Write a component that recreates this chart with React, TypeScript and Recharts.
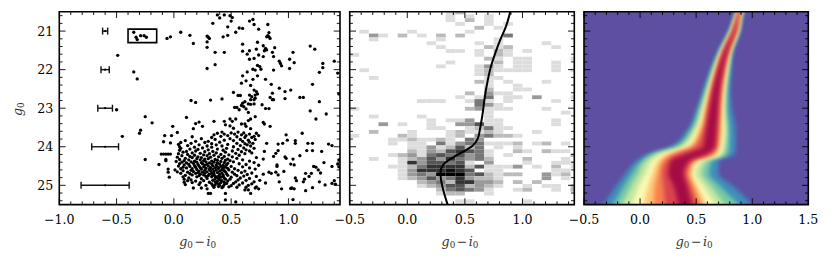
import React from "react";
import {
  Area,
  CartesianGrid,
  ComposedChart,
  ErrorBar,
  Line,
  ReferenceArea,
  Scatter,
  ScatterChart,
  XAxis,
  YAxis,
} from "recharts";

// tick lists
const colourTicksLeft = [-1, -0.9, -0.8, -0.7, -0.6, -0.5, -0.4, -0.3, -0.2, -0.1, 0, 0.1, 0.2, 0.3, 0.4, 0.5, 0.6, 0.7, 0.8, 0.9, 1, 1.1, 1.2, 1.3, 1.4];
const colourTicksMid = [-0.5, -0.4, -0.3, -0.2, -0.1, 0, 0.1, 0.2, 0.3, 0.4, 0.5, 0.6, 0.7, 0.8, 0.9, 1, 1.1, 1.2, 1.3, 1.4];
const colourTicksRight = [-0.5, -0.4, -0.3, -0.2, -0.1, 0, 0.1, 0.2, 0.3, 0.4, 0.5, 0.6, 0.7, 0.8, 0.9, 1, 1.1, 1.2, 1.3, 1.4, 1.5];
const magTicks = [20.6, 20.8, 21, 21.2, 21.4, 21.6, 21.8, 22, 22.2, 22.4, 22.6, 22.8, 23, 23.2, 23.4, 23.6, 23.8, 24, 24.2, 24.4, 24.6, 24.8, 25, 25.2, 25.4];

// left panel: photometric errors at each magnitude
const errorMags = [21, 22, 23, 24, 25];
const errorSizes = [0.022, 0.036, 0.064, 0.117, 0.21];

// left panel: the sparser stars as [colour, magnitude]
const sparseStars: number[][] = [
  [0.38, 20.58], [0.4, 20.66], [0.44, 20.58], [0.49, 20.6], [0.51, 20.65], [0.5, 20.74], [0.34, 20.8], [0.47, 20.89], [0.66, 20.74], [0.69, 20.7],
  [0.7, 20.83], [0.74, 20.95], [0.82, 20.83], [0.57, 20.92], [0.6, 20.93], [0.54, 21.03], [0.47, 21.11], [0.43, 21.15], [0.29, 21.13], [0.3, 21.16],
  [0.31, 21.19], [0.29, 21.28], [0.17, 21.32], [0.14, 21.11], [0.06, 21.03], [-0.03, 21.15], [-0.06, 21.19], [-0.35, 21.03], [-0.33, 21.16], [-0.32, 21.22],
  [-0.29, 21.12], [-0.26, 21.12], [-0.24, 21.16], [0.83, 21.04], [0.81, 21.15], [0.83, 21.15], [0.84, 21.19], [0.82, 21.12], [0.6, 21.34], [0.73, 21.29],
  [0.78, 21.38], [0.8, 21.45], [0.81, 21.49], [0.79, 21.51], [0.88, 21.43], [0.86, 21.55], [0.87, 21.66], [0.72, 21.47], [0.66, 21.51], [0.64, 21.6],
  [0.6, 21.52], [0.29, 21.42], [0.36, 21.55], [0.44, 21.55], [1.04, 21.55], [0.92, 21.78], [0.93, 21.84], [1.01, 21.73], [1.05, 21.82], [0.94, 21.9],
  [1.01, 21.97], [1.19, 21.39], [1.23, 21.47], [1.4, 21.78], [1.3, 21.84], [1.3, 21.95], [1.27, 22.07], [1.43, 22.09], [-0.49, 21.63], [0.29, 21.97],
  [0.36, 21.87], [0.66, 21.73], [0.7, 21.71], [0.74, 21.62], [0.78, 21.66], [0.73, 21.89], [0.75, 21.92], [0.76, 21.99], [0.69, 21.99], [0.71, 22.01],
  [0.64, 22.06], [0.87, 22.01], [0.6, 22.16], [0.73, 22.16], [0.69, 22.25], [0.63, 22.29], [0.59, 22.35], [0.8, 22.25], [0.85, 22.38], [1.21, 22.38],
  [-0.35, 22.06], [-0.32, 22.24], [0.67, 22.41], [0.52, 22.59], [0.56, 22.67], [0.58, 22.67], [0.7, 22.53], [0.72, 22.57], [0.73, 22.63], [0.71, 22.66],
  [0.68, 22.7], [0.66, 22.66], [0.71, 22.74], [0.7, 22.78], [0.67, 22.78], [0.62, 22.83], [0.6, 22.87], [0.59, 22.93], [0.61, 22.96], [0.65, 22.89],
  [0.67, 22.9], [0.7, 22.89], [0.77, 22.91], [0.86, 22.61], [0.84, 22.72], [0.86, 22.78], [0.87, 22.78], [0.92, 22.48], [0.97, 22.57], [1.02, 22.53],
  [0.97, 22.75], [1.1, 22.72], [1.13, 22.72], [1.44, 22.63], [1.27, 22.83], [1.19, 23.07], [1.24, 23.28], [1.33, 23.15], [0.15, 22.8], [0.19, 22.85],
  [0.32, 22.79], [0.42, 22.76], [-0.5, 23.04], [0.53, 22.98], [0.55, 22.98], [0.57, 23.04], [0.63, 23.02], [0.65, 23.11], [0.71, 23.22], [0.8, 23.01],
  [0.83, 23.01], [-0.25, 23.22], [-0.19, 23.38], [0.11, 23.24], [0.35, 23.34], [0.22, 23.36], [0.19, 23.4], [0.25, 23.47], [0.17, 23.53], [-0.01, 23.47],
  [-0.29, 23.57], [0.44, 23.34], [0.49, 23.28], [0.51, 23.34], [0.54, 23.28], [0.45, 23.43], [0.49, 23.46], [0.52, 23.52], [0.59, 23.41], [0.62, 23.41],
  [0.63, 23.47], [0.67, 23.53], [0.67, 23.28], [0.78, 23.37], [0.79, 23.41], [0.84, 23.47], [0.65, 23.32],
  [-0.45, 23.73], [-0.3, 23.65], [-0.25, 24.33], [-0.13, 24.46], [-0.08, 23.71], [-0.02, 23.71], [0.03, 23.63], [-0.09, 23.87], [-0.03, 23.9], [-0.11, 24.19],
  [-0.09, 24.19], [-0.07, 24.19], [-0.05, 24.19], [-0.03, 24.19], [-0.07, 24.33], [-0.07, 24.36], [-0.05, 24.58], [-0.05, 24.66], [-0.04, 24.79],
  [0.81, 23.91], [0.91, 23.93], [0.95, 23.91], [0.99, 23.83], [0.98, 23.69], [1.12, 23.65], [1.06, 23.84], [1.06, 23.91], [1.17, 23.91], [1.21, 23.91],
  [1.35, 23.93], [1.38, 23.97], [1.16, 24.1], [1.21, 24.1], [1.29, 24.12], [0.91, 24.1], [0.89, 24.17], [0.87, 24.25], [0.79, 24.12], [0.97, 24.26],
  [0.98, 24.3], [1.1, 24.23], [1.04, 24.32], [1.02, 24.45], [1.05, 24.47], [1.31, 24.41], [1.44, 24.34], [1.43, 24.45], [1.38, 24.51], [1.44, 24.52],
  [1.22, 24.51], [1.24, 24.53], [1.26, 24.6], [1.28, 24.68], [0.9, 24.47], [0.9, 24.51], [0.96, 24.64], [0.89, 24.66], [0.78, 24.71], [0.83, 24.66],
  [0.85, 24.69], [0.91, 24.73], [0.92, 24.91], [0.8, 24.94], [0.94, 25.09], [1.03, 25.07], [1.05, 25.09], [1.02, 25.08], [1.07, 24.88], [1.06, 24.81],
  [1.15, 24.69], [1.2, 24.69], [1.18, 24.77], [1.14, 24.84], [1.13, 24.91], [1.4, 24.88], [1.38, 24.95], [1.41, 24.97], [1.32, 24.99], [1.27, 24.91],
  [1.21, 25.06], [1.15, 25.14], [1.04, 25.37], [0.54, 25.43], [0.45, 25.38], [0.45, 25.21], [0.74, 25.09], [0.67, 25.21], [0.65, 25.12], [0.62, 25.12],
  [0.71, 25.07], [0.3, 25.21], [0.32, 25.21], [0.29, 25.09], [0.24, 25.07], [0.17, 25.07],
];

// left panel: the crowded clump, colours listed per magnitude
const clumpRows: [number, number[]][] = [
  [23.62, [0.42, 0.56]], [23.64, [0.5, 0.61]], [23.65, [0.38, 0.72]], [23.67, [0.44, 0.66, 0.53]], [23.69, [0.35, 0.59]],
  [23.71, [0.47, 0.74, 0.63]], [23.73, [0.7, 0.41]], [23.74, [0.16, 0.55]], [23.76, [0.33, 0.62, 0.68]], [23.79, [0.24, 0.49]],
  [23.81, [0.36, 0.71, 0.58]], [23.83, [0.65, 0.44]], [23.84, [0.1, 0.52]], [23.86, [0.3, 0.19, 0.6]], [23.88, [0.66, 0.4]],
  [23.89, [0.06, 0.27]], [23.91, [0.55, 0.15, 0.69]], [23.92, [0.33, 0.62]], [23.94, [0.04, 0.47]], [23.95, [0.22, 0.64, 0.37]],
  [23.97, [0.12, 0.58]], [23.98, [0.29, 0.42, 0.67]], [24.0, [0.05, 0.52]], [24.01, [0.18, 0.33]], [24.03, [0.61, 0.25]],
  [24.04, [0.06, 0.46, 0.7]], [24.06, [0.14, 0.38]], [24.07, [0.56, 0.21]], [24.08, [0.3, 0.63]], [24.09, [0.05, 0.43]],
  [24.11, [0.19, 0.51, 0.66]], [24.12, [0.11, 0.34]], [24.13, [0.27, 0.59]], [24.14, [0.08, 0.45]], [24.16, [0.37, 0.16, 0.68]],
  [24.17, [0.54, 0.23]], [24.18, [0.31, 0.62, 0.04]], [24.2, [0.12, 0.41]], [24.21, [0.26, 0.48]], [24.22, [0.18, 0.35, 0.57]],
  [24.23, [0.29, 0.07]], [24.25, [0.44, 0.14]], [24.26, [0.21, 0.39, 0.51]], [24.27, [0.32, 0.03]], [24.28, [0.24, 0.16, 0.72]],
  [24.3, [0.42, 0.1, 0.55]], [24.31, [0.3, 0.2]], [24.32, [0.47, 0.27, 0.78]], [24.33, [0.36, 0.05]], [24.34, [0.13, 0.23, 0.6]],
  [24.35, [0.38, 0.45]], [24.36, [0.09, 0.26, 0.49]], [24.37, [0.18, 0.66, 0.33]], [24.38, [0.41, 0.02]], [24.39, [0.28, 0.15, 0.52]],
  [24.4, [0.35, 0.07, 0.2]], [24.41, [0.44, 0.24, 0.7]], [24.42, [0.11, 0.31, 0.38]], [24.43, [0.17, 0.47]], [24.44, [0.25, 0.05, 0.57]],
  [24.45, [0.4, 0.29, 0.33]], [24.46, [0.13, 0.21, 0.63]], [24.47, [0.37, 0.09, 0.46]], [24.48, [0.27, 0.43, 0.74]], [24.49, [0.18, 0.34]],
  [24.5, [0.04, 0.22, 0.3]], [24.51, [0.41, 0.5, 0.14]], [24.52, [0.26, 0.38, 0.6]], [24.53, [0.08, 0.45, 0.19]], [24.54, [0.32, 0.23, 0.36]],
  [24.55, [0.11, 0.43, 0.66]], [24.56, [0.28, 0.39, 0.47]], [24.57, [0.06, 0.16, 0.53]], [24.58, [0.34, 0.24, 0.71]], [24.59, [0.2, 0.42, 0.31]],
  [24.6, [0.01, 0.37, 0.48]], [24.61, [0.27, 0.15, 0.56]], [24.62, [0.44, 0.08, 0.32]], [24.63, [0.22, 0.4, 0.62]], [24.64, [0.35, 0.17]],
  [24.65, [0.03, 0.29, 0.45]], [24.66, [0.25, 0.12, 0.51]], [24.67, [0.38, 0.59, 0.21]], [24.68, [0.33, 0.42, 0.68]], [24.69, [0.27, 0.19, 0.06]],
  [24.7, [0.46, 0.35, 0.14]], [24.71, [0.31, 0.23, 0.53]], [24.72, [0.4, 0.64]], [24.73, [0.26, 0.16, 0.43]], [24.74, [0.34, 0.1, 0.47]],
  [24.75, [0.22, 0.55, 0.3]], [24.76, [0.39, 0.61, 0.36]], [24.77, [0.72, 0.43, 0.28]], [24.78, [0.08, 0.2, 0.33]], [24.79, [0.41, 0.5, 0.37]],
  [24.81, [0.13, 0.44, 0.58]], [24.82, [0.29, 0.66, 0.39]], [24.83, [0.24, 0.36]], [24.84, [0.09, 0.45, 0.49]], [24.86, [0.15, 0.4, 0.56]],
  [24.87, [0.63, 0.34, 0.75]], [24.88, [0.26, 0.42, 0.12]], [24.89, [0.38, 0.19, 0.47]], [24.91, [0.54, 0.36, 0.7]], [24.92, [0.44, 0.09, 0.31]],
  [24.93, [0.23, 0.41, 0.16]], [24.94, [0.37, 0.6]], [24.95, [0.46, 0.52]], [24.96, [0.33, 0.68, 0.39]], [24.98, [0.1, 0.44, 0.22]],
  [24.99, [0.36, 0.57]], [25.0, [0.28, 0.4, 0.65]], [25.01, [0.5, 0.34]], [25.03, [0.39, 0.43]], [25.04, [0.72, 0.48]],
  [25.05, [0.35, 0.55, 0.63]], [25.06, [0.42]],
];

// middle panel: [row, [[column, count], ...]] in 0.1 mag by 1/12 colour bins
const heatRows: [number, number[][]][] = [
  [0, [[10, 1], [11, 2]]],
  [1, [[10, 1], [12, 1], [14, 1]]],
  [2, [[10, 1], [12, 2], [14, 1]]],
  [3, [[11, 1], [14, 1], [16, 1]]],
  [4, [[13, 2], [15, 1]]],
  [5, [[1, 1], [6, 1], [12, 1]]],
  [6, [[2, 3], [3, 1], [5, 2], [7, 1], [9, 2], [11, 2], [16, 4]]],
  [7, [[2, 1], [9, 1], [15, 1]]],
  [8, [[8, 1], [13, 1], [15, 1], [20, 1]]],
  [9, [[9, 1], [14, 2], [15, 1], [16, 2], [21, 1]]],
  [10, [[10, 1], [11, 1], [13, 1], [15, 2], [16, 1], [18, 1]]],
  [11, [[0, 1], [13, 1], [15, 2], [16, 1]]],
  [12, [[14, 2], [15, 1], [17, 1], [18, 1], [23, 1]]],
  [13, [[10, 1], [15, 2], [17, 1], [18, 1], [21, 1]]],
  [14, [[9, 1], [13, 1], [14, 3], [15, 1], [17, 1], [18, 1], [21, 1]]],
  [15, [[1, 1], [13, 1], [14, 2], [15, 1], [16, 1], [17, 1], [18, 1], [21, 1], [23, 1]]],
  [16, [[13, 1], [14, 2]]],
  [17, [[2, 1], [14, 1], [15, 1]]],
  [18, [[13, 2], [14, 1], [16, 1], [20, 1]]],
  [19, [[14, 1], [17, 1]]],
  [20, [[14, 2], [17, 1], [18, 1]]],
  [21, [[12, 2], [14, 3], [15, 1], [16, 1]]],
  [22, [[11, 1], [13, 1], [14, 4], [16, 1], [17, 1], [19, 3], [23, 1]]],
  [23, [[7, 1], [8, 1], [9, 1], [12, 1], [13, 4], [14, 1], [16, 1], [21, 1]]],
  [24, [[13, 4], [14, 3], [15, 1]]],
  [25, [[0, 1], [12, 2], [13, 3], [14, 1], [15, 1], [16, 1], [20, 1]]],
  [26, [[14, 1], [22, 1]]],
  [27, [[2, 1], [7, 1], [14, 1]]],
  [28, [[8, 1], [10, 1], [11, 1], [12, 3], [14, 1], [15, 1], [21, 1]]],
  [29, [[3, 3], [5, 1], [8, 1], [11, 3], [12, 3], [13, 5], [14, 1], [15, 1], [21, 1]]],
  [30, [[8, 1], [9, 1], [12, 1], [13, 2], [14, 4], [15, 1], [16, 1]]],
  [31, [[2, 2], [6, 1], [10, 1], [11, 2], [12, 1], [13, 1], [14, 2], [15, 1], [19, 1]]],
  [32, [[0, 1], [5, 2], [6, 1], [10, 1], [11, 2], [13, 3], [14, 4], [15, 2], [16, 2], [17, 1]]],
  [33, [[4, 1], [5, 1], [6, 2], [7, 1], [8, 1], [9, 2], [10, 1], [12, 4], [13, 3]]],
  [34, [[4, 1], [6, 1], [7, 1], [9, 4], [10, 1], [11, 3], [12, 4], [13, 4], [14, 1], [15, 1], [16, 1], [17, 2], [19, 1], [20, 2], [22, 1]]],
  [35, [[6, 1], [7, 1], [8, 3], [9, 1], [10, 2], [11, 5], [12, 2], [13, 4], [15, 1], [17, 1]]],
  [36, [[6, 2], [7, 1], [8, 3], [9, 2], [10, 5], [11, 6], [12, 5], [13, 4], [14, 1], [17, 2], [18, 1], [20, 2], [21, 1], [22, 1]]],
  [37, [[4, 1], [5, 2], [6, 3], [7, 1], [8, 4], [9, 5], [10, 4], [11, 5], [12, 3], [13, 4], [14, 1], [16, 1], [23, 2]]],
  [38, [[2, 1], [5, 1], [6, 2], [7, 3], [8, 5], [9, 3], [10, 6], [11, 4], [12, 3], [13, 4], [14, 2], [18, 2], [22, 1]]],
  [39, [[5, 1], [6, 6], [7, 3], [8, 5], [9, 5], [10, 4], [11, 5], [12, 1], [14, 3], [18, 1], [21, 1], [22, 1], [23, 1]]],
  [40, [[4, 1], [5, 1], [6, 2], [7, 4], [8, 6], [9, 6], [10, 6], [11, 6], [12, 2], [13, 5], [14, 1], [15, 1], [16, 1], [17, 3], [19, 1], [21, 2], [23, 1]]],
  [41, [[5, 1], [6, 3], [7, 6], [8, 6], [9, 6], [10, 7], [11, 6], [12, 5], [14, 1], [15, 1], [21, 1], [22, 1]]],
  [42, [[5, 1], [6, 3], [7, 4], [8, 3], [9, 8], [10, 8], [11, 8], [12, 4], [13, 5], [14, 2], [15, 1], [16, 2], [17, 2], [20, 3], [21, 1], [22, 2]]],
  [43, [[5, 1], [6, 2], [7, 3], [8, 5], [9, 3], [10, 4], [11, 6], [12, 3], [13, 2], [14, 2], [15, 1], [20, 3], [22, 1]]],
  [44, [[7, 2], [8, 3], [9, 4], [10, 2], [11, 6], [12, 6], [13, 3], [14, 3], [15, 2], [17, 2], [19, 2]]],
  [45, [[7, 1], [8, 2], [9, 3], [10, 5], [11, 5], [12, 2], [13, 3], [14, 2], [15, 1], [18, 1], [20, 1], [21, 1], [23, 2]]],
  [46, [[9, 2], [10, 4], [11, 5], [12, 4], [13, 3], [14, 1], [17, 1], [18, 2], [21, 1], [23, 2]]],
  [47, [[9, 1], [10, 2], [11, 2], [14, 1]]],
  [49, [[11, 1], [12, 1], [18, 1]]],
];

// middle panel: isochrone
const isoMag = [20.5, 20.88, 21.23, 21.57, 21.92, 22.3, 22.69, 23.08, 23.51, 23.8, 23.97, 24.1, 24.24, 24.35, 24.48, 24.67, 24.88, 25.14, 25.5];
const isoColour = [0.894, 0.857, 0.807, 0.764, 0.726, 0.697, 0.674, 0.657, 0.633, 0.61, 0.57, 0.503, 0.416, 0.358, 0.309, 0.288, 0.294, 0.314, 0.35];

// right panel: density contours, colour at each magnitude on both sides of the ridge
const contourMag = [20.3, 20.5, 21, 21.5, 22, 22.5, 23, 23.58, 24, 24.2, 24.36, 24.7, 25, 25.5, 25.7];
const blueEdge = [
  [0.89, 0.857, 0.789, 0.699, 0.625, 0.565, 0.506, 0.417, 0.268, 0.06, -0.03, -0.134, -0.208, -0.327, -0.38],
  [0.95, 0.923, 0.893, 0.833, 0.813, 0.804, 0.818, 0.854, 0.854, 0.842, 0.699, 0.699, 0.818, 0.997, 1.05],
];
const tealEdge = [
  [0.9, 0.863, 0.801, 0.711, 0.64, 0.583, 0.527, 0.446, 0.313, 0.098, 0.015, -0.074, -0.14, -0.238, -0.28],
  [0.94, 0.917, 0.884, 0.821, 0.798, 0.78, 0.777, 0.795, 0.795, 0.783, 0.64, 0.616, 0.705, 0.878, 0.94],
];
const greenEdge = [
  [0.9, 0.869, 0.807, 0.72, 0.652, 0.598, 0.545, 0.47, 0.348, 0.134, 0.051, -0.015, -0.074, -0.164, -0.2],
  [0.94, 0.911, 0.878, 0.813, 0.786, 0.765, 0.759, 0.774, 0.765, 0.744, 0.595, 0.551, 0.625, 0.759, 0.81],
];
const yellowEdge = [
  [0.91, 0.872, 0.813, 0.729, 0.664, 0.613, 0.565, 0.497, 0.387, 0.179, 0.11, 0.051, -0.006, -0.074, -0.1],
  [0.94, 0.905, 0.872, 0.807, 0.774, 0.753, 0.744, 0.753, 0.735, 0.714, 0.545, 0.491, 0.557, 0.67, 0.71],
];
const orangeEdge = [
  [0.91, 0.875, 0.818, 0.735, 0.673, 0.625, 0.58, 0.521, 0.432, 0.238, 0.164, 0.11, 0.074, 0.03, 0.01],
  [0.93, 0.902, 0.866, 0.801, 0.765, 0.741, 0.729, 0.729, 0.714, 0.685, 0.506, 0.461, 0.506, 0.595, 0.63],
];
const emberEdge = [
  [0.91, 0.878, 0.824, 0.741, 0.682, 0.634, 0.595, 0.545, 0.461, 0.283, 0.199, 0.158, 0.134, 0.119, 0.11],
  [0.93, 0.899, 0.86, 0.795, 0.756, 0.729, 0.717, 0.711, 0.693, 0.655, 0.485, 0.438, 0.476, 0.551, 0.58],
];
const redEdge = [
  [0.91, 0.881, 0.827, 0.747, 0.688, 0.643, 0.607, 0.565, 0.497, 0.327, 0.238, 0.199, 0.208, 0.223, 0.23],
  [0.93, 0.896, 0.857, 0.789, 0.747, 0.72, 0.705, 0.693, 0.679, 0.616, 0.461, 0.411, 0.446, 0.506, 0.53],
];
const crimsonEdge = [
  [0.92, 0.884, 0.833, 0.753, 0.696, 0.652, 0.622, 0.589, 0.565, 0.402, 0.277, 0.253, 0.298, 0.342, 0.36],
  [0.93, 0.893, 0.851, 0.783, 0.738, 0.708, 0.693, 0.679, 0.664, 0.58, 0.438, 0.387, 0.417, 0.461, 0.48],
];

const contourLevels: [string, number[][], string][] = [
  ["blue", blueEdge, "#3f8fbb"],
  ["teal", tealEdge, "#76c8a6"],
  ["green", greenEdge, "#c4e79f"],
  ["yellow", yellowEdge, "#fbfab5"],
  ["orange", orangeEdge, "#fdc877"],
  ["ember", emberEdge, "#f7814c"],
  ["red", redEdge, "#d9444e"],
  ["crimson", crimsonEdge, "#a50b45"],
];

const FONT = "'DejaVu Serif', serif";
const FONT_SIZE = 12.6;
const SPINE = 1.6;
const W = 831;
const H = 262;

const leftPanel = { left: 59.3, right: 340, top: 11.8, bottom: 204.6 };
const midPanel = { left: 349.7, right: 574.3, top: 11.8, bottom: 204.6 };
const rightPanel = { left: 584, right: 808.3, top: 11.8, bottom: 204.6 };

type Panel = typeof leftPanel;

const marginOf = (p: Panel) => ({
  left: p.left - 30,
  right: W - p.right,
  top: p.top,
  bottom: H - p.bottom - 30,
});

const xTick = (p: Panel) => (props: any) => {
  const { x, payload } = props;
  const v = payload.value;
  const major = Math.abs(v * 2 - Math.round(v * 2)) < 1e-6;
  const len = major ? 6.3 : 3.2;
  return (
    <g>
      <line x1={x} x2={x} y1={p.bottom} y2={p.bottom - len} stroke="#000" strokeWidth={0.9} />
      <line x1={x} x2={x} y1={p.top} y2={p.top + len} stroke="#000" strokeWidth={0.9} />
      {major && (
        <text x={x} y={p.bottom + 19} textAnchor="middle" fontFamily={FONT} fontSize={FONT_SIZE} fill="#000">
          {v < 0 ? "\u2212" + Math.abs(v).toFixed(1) : v.toFixed(1)}
        </text>
      )}
    </g>
  );
};

const yTick = (p: Panel, labelled: boolean) => (props: any) => {
  const { y, payload } = props;
  const v = payload.value;
  const major = Math.abs(v - Math.round(v)) < 1e-6;
  const len = major ? 6.3 : 3.2;
  return (
    <g>
      <line x1={p.left} x2={p.left + len} y1={y} y2={y} stroke="#000" strokeWidth={0.9} />
      <line x1={p.right} x2={p.right - len} y1={y} y2={y} stroke="#000" strokeWidth={0.9} />
      {major && labelled && (
        <text x={p.left - 6} y={y + 4.7} textAnchor="end" fontFamily={FONT} fontSize={FONT_SIZE} fill="#000">
          {v}
        </text>
      )}
    </g>
  );
};

const ColourTitle = ({ p }: { p: Panel }) => (
  <text
    x={(p.left + p.right) / 2 - 2}
    y={246}
    textAnchor="middle"
    fontFamily={FONT}
    fontSize={FONT_SIZE}
    fill="#333"
  >
    <tspan fontStyle="italic">g</tspan>
    <tspan fontSize={8.8} dy={2}>0</tspan>
    <tspan dy={-2} dx={1.5}>{"\u2212"}</tspan>
    <tspan fontStyle="italic" dx={1.5}>i</tspan>
    <tspan fontSize={8.8} dy={2}>0</tspan>
  </text>
);

const MagTitle = () => (
  <text x={22} y={116} transform="rotate(-90 22 116)" fontFamily={FONT} fontSize={FONT_SIZE} fill="#333">
    <tspan fontStyle="italic">g</tspan>
    <tspan fontSize={8.8} dy={2}>0</tspan>
  </text>
);

const stars = [
  ...sparseStars.map(([x, y]) => ({ x, y })),
  ...clumpRows.flatMap(([y, xs]) => xs.map((x) => ({ x, y }))),
];
const errorPoints = errorMags.map((y, i) => ({ x: -0.6, y, err: errorSizes[i] }));
const isoData = isoMag.map((y, i) => ({ y, x: isoColour[i] }));
const contourData = contourMag.map((y, i) => {
  const row: Record<string, any> = { y };
  contourLevels.forEach(([name, edge]) => {
    row[name] = [edge[0][i], edge[1][i]];
  });
  return row;
});

const binShade = (n: number) => {
  const g = Math.max(0, 221 - 34 * (n - 1));
  return `rgb(${g},${g},${g})`;
};

const starDot = (props: any) => <circle cx={props.cx} cy={props.cy} r={1.65} fill="#000" />;
const errorDot = (props: any) => <circle cx={props.cx} cy={props.cy} r={1.1} fill="#000" />;

const chartStyle: React.CSSProperties = { position: "absolute", left: 0, top: 0 };

// the histogram grid starts a little above the top of the plot
const HEAT_TOP = 20.465;

// vertical layout already runs the y scale top to bottom, so only the scatter panel needs reversed
const axes = (p: Panel, ticks: number[], domain: number[], scatter: boolean, title: React.ReactNode) => [
  <XAxis
    key="x"
    type="number"
    dataKey={scatter ? "x" : undefined}
    domain={domain}
    ticks={ticks}
    interval={0}
    height={30}
    allowDataOverflow
    axisLine={false}
    tickLine={false}
    tick={xTick(p)}
    label={{ content: () => <ColourTitle p={p} /> }}
  />,
  <YAxis
    key="y"
    type="number"
    dataKey="y"
    reversed={scatter}
    domain={[20.5, 25.5]}
    ticks={magTicks}
    interval={0}
    width={30}
    allowDataOverflow
    axisLine={false}
    tickLine={false}
    tick={yTick(p, scatter)}
    label={title ? { content: () => title } : undefined}
  />,
];

export default function App() {
  return (
    <div style={{ position: "absolute", left: 0, top: 0, width: W, height: H, background: "#fff", overflow: "hidden" }}>
      <style>{`.contours .recharts-area-area{filter:blur(2px)}`}</style>

      <div style={chartStyle}>
        <ScatterChart width={W} height={H} margin={marginOf(leftPanel)}>
          {axes(leftPanel, colourTicksLeft, [-1, 1.45], true, <MagTitle />)}
          <Scatter data={stars} shape={starDot} isAnimationActive={false} />
          <Scatter data={errorPoints} shape={errorDot} isAnimationActive={false}>
            <ErrorBar dataKey="err" direction="x" width={3.5} stroke="#111" strokeWidth={1.4} isAnimationActive={false} />
          </Scatter>
          <ReferenceArea x1={-0.4} x2={-0.15} y1={20.95} y2={21.3} fill="none" stroke="#000" strokeWidth={1.6} />
          <ReferenceArea x1={-1} x2={1.45} y1={20.5} y2={25.5} fill="none" stroke="#000" strokeWidth={SPINE} />
        </ScatterChart>
      </div>

      <div style={chartStyle}>
        <ComposedChart width={W} height={H} margin={marginOf(midPanel)} layout="vertical" data={isoData}>
          {axes(midPanel, colourTicksMid, [-0.5, 1.45], false, null)}
          {heatRows.flatMap(([row, bins]) =>
            bins.map(([col, n]) => (
              <ReferenceArea
                key={`${row}-${col}`}
                x1={-0.5 + col / 12}
                x2={Math.min(1.45, -0.5 + (col + 1) / 12)}
                y1={Math.max(20.5, HEAT_TOP + row / 10)}
                y2={HEAT_TOP + (row + 1) / 10}
                fill={binShade(n)}
                fillOpacity={1}
                stroke="none"
              />
            ))
          )}
          <Line dataKey="x" type="monotone" stroke="#000" strokeWidth={2} dot={false} activeDot={false} isAnimationActive={false} />
          <ReferenceArea x1={-0.5} x2={1.45} y1={20.5} y2={25.5} fill="none" stroke="#000" strokeWidth={SPINE} />
        </ComposedChart>
      </div>

      <div style={chartStyle} className="contours">
        <ComposedChart width={W} height={H} margin={marginOf(rightPanel)} layout="vertical" data={contourData}>
          <CartesianGrid fill="#5e4fa2" stroke="none" horizontal={false} vertical={false} />
          {axes(rightPanel, colourTicksRight, [-0.5, 1.5], false, null)}
          {contourLevels.map(([name, , colour]) => (
            <Area
              key={name}
              dataKey={name}
              type="monotone"
              fill={colour}
              fillOpacity={1}
              stroke="none"
              dot={false}
              activeDot={false}
              isAnimationActive={false}
            />
          ))}
          <ReferenceArea x1={-0.5} x2={1.5} y1={20.5} y2={25.5} fill="none" stroke="#000" strokeWidth={SPINE} />
        </ComposedChart>
      </div>
    </div>
  );
}
